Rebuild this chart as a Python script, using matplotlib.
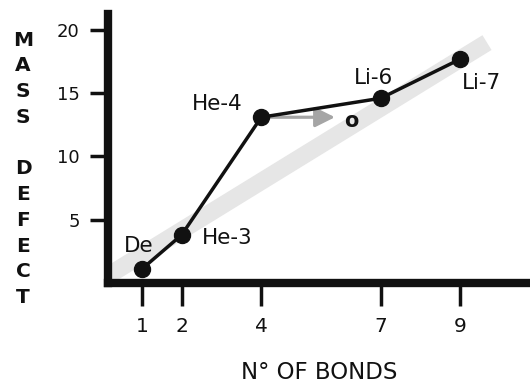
import matplotlib
matplotlib.use("Agg")
import matplotlib.pyplot as plt

# ---- data ----
isotopes = ["De", "He-3", "He-4", "Li-6", "Li-7"]
bonds = [1, 2, 4, 7, 9]
mass_defect = [1.1, 3.8, 13.1, 14.6, 17.7]
x_ticks = [1, 2, 4, 7, 9]
y_ticks = [5, 10, 15, 20]
trend_x = [0.0, 9.67]
trend_y = [0.29, 19.0]
arrow_end_x = 5.85
arrow_label = "o"

# ---- figure ----
fig = plt.figure(figsize=(5.30, 3.86), dpi=100)
fig.patch.set_facecolor("white")
ax = fig.add_axes([107.5 / 530, 1 - 283 / 386, 1 - 107.5 / 530, 269 / 386])
ax.set_xlim(0.138, 10.75)
ax.set_ylim(0, 21.26)

ink = "#111111"

# gray trend band
ax.plot(trend_x, trend_y, color="#e6e6e6", lw=12.5, solid_capstyle="butt", zorder=1)

# arrow from He-4
ax.annotate("", xy=(arrow_end_x, mass_defect[2]), xytext=(bonds[2], mass_defect[2]),
            arrowprops=dict(arrowstyle="-|>,head_length=0.8,head_width=0.4",
                            color="#a5a5a5", lw=2.3, shrinkA=0, shrinkB=0,
                            mutation_scale=15), zorder=2)
ax.text(6.27, 12.83, arrow_label, fontsize=15, fontweight="bold", color=ink,
        ha="center", va="center", zorder=5)

# main line
ax.plot(bonds, mass_defect, color=ink, lw=2.5, marker="o", ms=11.5,
        markerfacecolor=ink, markeredgecolor=ink, zorder=4, clip_on=False)

# point labels
lab_kw = dict(fontsize=15.5, color=ink, zorder=5)
ax.text(0.91, 2.92, isotopes[0], ha="center", va="center", **lab_kw)
ax.text(2.50, 3.55, isotopes[1], ha="left", va="center", **lab_kw)
ax.text(2.90, 14.15, isotopes[2], ha="center", va="center", **lab_kw)
ax.text(6.83, 16.2, isotopes[3], ha="center", va="center", **lab_kw)
ax.text(9.54, 15.8, isotopes[4], ha="center", va="center", **lab_kw)

# spines
for s in ["top", "right"]:
    ax.spines[s].set_visible(False)
for s in ["left", "bottom"]:
    ax.spines[s].set_linewidth(6)
    ax.spines[s].set_color(ink)
    ax.spines[s].set_capstyle("projecting")

ax.set_xticks(x_ticks)
ax.set_xticklabels([str(v) for v in x_ticks])
ax.set_yticks(y_ticks)
ax.set_yticklabels([str(v) for v in y_ticks])
ax.tick_params(axis="x", length=16.5, width=2.5, color=ink, pad=8, labelsize=14.5, labelcolor=ink)
ax.tick_params(axis="y", length=13, width=2.5, color=ink, pad=7, labelsize=13, labelcolor=ink)

ax.set_xlabel("N\u00b0 OF BONDS", fontsize=16.5, color=ink)
ax.xaxis.set_label_coords(0.5, -0.29)

ax.set_ylabel("M\nA\nS\nS\n\nD\nE\nF\nE\nC\nT", rotation=0, fontsize=14.5,
              fontweight="bold", color=ink, linespacing=1.45, ha="center", va="center")
ax.yaxis.set_label_coords(-0.2, 0.424)

fig.savefig("out.png", dpi=100, facecolor="white")
